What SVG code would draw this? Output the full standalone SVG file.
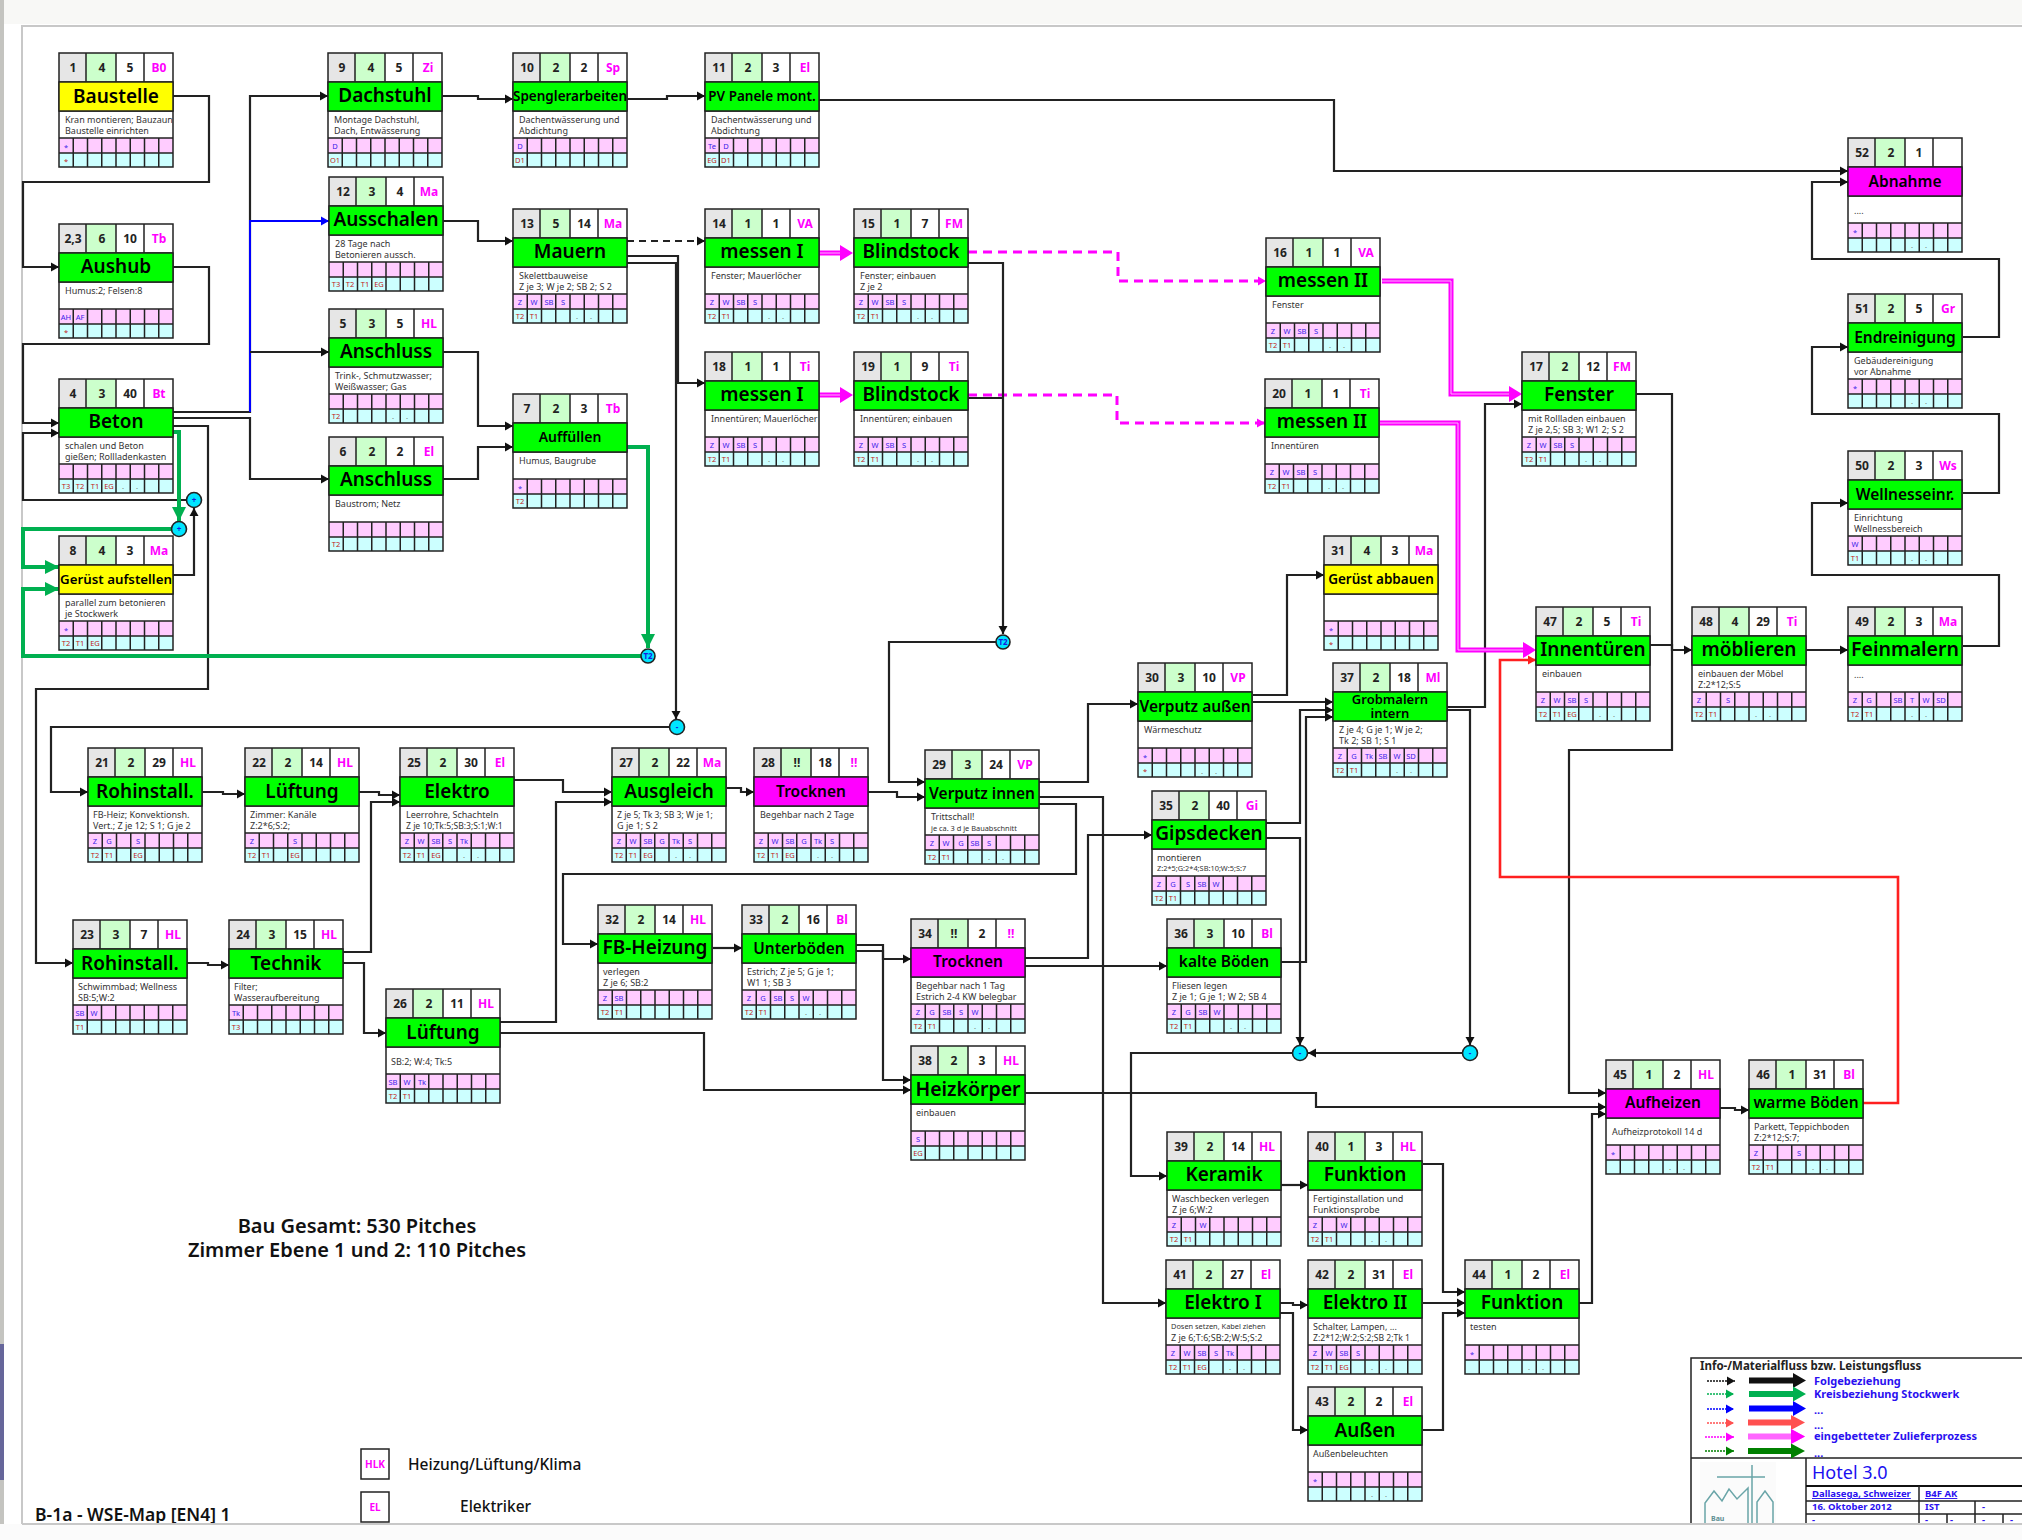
<svg xmlns="http://www.w3.org/2000/svg" width="2022" height="1540" viewBox="0 0 2022 1540">
<style>
text{font-family:"Noto Sans","DejaVu Sans",sans-serif}
.e{fill:none;stroke:#222;stroke-width:2}
.s{fill:none;stroke:#222;stroke-width:1.5}
.k{fill:none;stroke:#222;stroke-width:2.2;marker-end:url(#ak)}
.kn{fill:none;stroke:#222;stroke-width:2.2}
.kd{fill:none;stroke:#222;stroke-width:2;stroke-dasharray:7 5;marker-end:url(#ak)}
.bl{fill:none;stroke:#0000ff;stroke-width:2;marker-end:url(#ab)}
.gr{fill:none;stroke:#00b050;stroke-width:4;marker-end:url(#ag)}
.rd{fill:none;stroke:#ff2020;stroke-width:2.6;marker-end:url(#ar)}
.md{fill:none;stroke:#ff00ff;stroke-width:3;stroke-dasharray:9 6;marker-end:url(#am)}
.mm{fill:none;stroke:#ff00ff;stroke-width:5}
.mw{fill:none;stroke:#ffb4ff;stroke-width:1}
.tg{fill:#00ff00;stroke:#222;stroke-width:1.5}
.ty{fill:#ffff00;stroke:#222;stroke-width:1.5}
.tm{fill:#ff00ff;stroke:#222;stroke-width:1.5}
.h{font-size:12px;font-weight:700;fill:#222;text-anchor:middle}
.r{font-size:12px;font-weight:700;fill:#ff00ff;text-anchor:middle}
.t,.t2,.t3{font-weight:600;fill:#000;text-anchor:middle}
.t{font-size:19px}.t2{font-size:15.5px}.t3{font-size:13.5px}
.d{font-size:9px;fill:#333}.d2{font-size:7.4px;fill:#333}
.p{font-size:7.5px;fill:#3a22e8;text-anchor:middle}
.c{font-size:7.5px;fill:#c02020;text-anchor:middle}
.g{fill:#777}
.o{fill:#00e5ff;stroke:#222;stroke-width:1.6}
.oh{font-size:8px;font-weight:700;fill:#1a1ae0;text-anchor:middle}
.lg{font-size:11px;font-weight:700;fill:#2a10f0}
.li{font-size:9.5px;font-weight:700;fill:#2a10f0}
.b1{font-size:20px;font-weight:600;fill:#111;text-anchor:middle}
.b2{font-size:15.5px;font-weight:500;fill:#111}
</style>
<defs>
<marker id="ak" markerUnits="userSpaceOnUse" markerWidth="9" markerHeight="10" refX="8" refY="5" orient="auto"><path d="M0,0.5 L8,5 L0,9.5z" fill="#111"/></marker>
<marker id="ab" markerUnits="userSpaceOnUse" markerWidth="9" markerHeight="10" refX="8" refY="5" orient="auto"><path d="M0,0.5 L8,5 L0,9.5z" fill="#0000ff"/></marker>
<marker id="ar" markerUnits="userSpaceOnUse" markerWidth="9" markerHeight="10" refX="8" refY="5" orient="auto"><path d="M0,0.5 L8,5 L0,9.5z" fill="#ff2020"/></marker>
<marker id="ag" markerUnits="userSpaceOnUse" markerWidth="15" markerHeight="14" refX="14" refY="7" orient="auto"><path d="M0,0 L14,7 L0,14z" fill="#00b050"/></marker>
<marker id="am" markerUnits="userSpaceOnUse" markerWidth="9" markerHeight="10" refX="8" refY="5" orient="auto"><path d="M0,0.5 L8,5 L0,9.5z" fill="#ff00ff"/></marker>
<marker id="ld" markerUnits="userSpaceOnUse" markerWidth="9" markerHeight="10" refX="8" refY="5" orient="auto"><path d="M0,0.5 L8,5 L0,9.5z" fill="#008000"/></marker>
<marker id="lg" markerUnits="userSpaceOnUse" markerWidth="9" markerHeight="10" refX="8" refY="5" orient="auto"><path d="M0,0.5 L8,5 L0,9.5z" fill="#00b050"/></marker>
<marker id="lr" markerUnits="userSpaceOnUse" markerWidth="9" markerHeight="10" refX="8" refY="5" orient="auto"><path d="M0,0.5 L8,5 L0,9.5z" fill="#ff5050"/></marker>
<g id="b">
<rect width="27" height="29" fill="#e6e6e6"/><rect x="27" width="30" height="29" fill="#ccffcc"/><rect x="57" width="57" height="29" fill="#fff"/>
<rect y="58" width="114" height="27" fill="#fff"/><rect y="85" width="114" height="15" fill="#ffccff"/><rect y="100" width="114" height="14" fill="#ccffff"/>
<path class="s" d="M0,0H114V114H0ZM27,0V29M57,0V29M85,0V29M0,29H114M0,58H114M0,85H114M0,100H114M14.25,85V114M28.5,85V114M42.75,85V114M57,85V114M71.25,85V114M85.5,85V114M99.75,85V114"/>
</g>
</defs>
<rect width="2022" height="1540" fill="#fff"/>
<rect width="2022" height="24" fill="#f8f8f6"/>
<rect x="0" y="0" width="4" height="1540" fill="#c4c4c0"/>
<rect x="0" y="1344" width="4" height="136" fill="#66669a"/>
<path d="M22,1524V26H2022" fill="none" stroke="#c8c8c8" stroke-width="2"/>

<g id="connectors">
<path class="k" d="M173,96H209V182H23V267H59"/>
<path class="k" d="M173,267H209V344H23V423H59"/>
<path class="k" d="M173,412H250V96H328"/>
<path class="bl" d="M250,412V221H329"/>
<path class="k" d="M250,352H329"/>
<path class="k" d="M173,418H250V479H329"/>
<path class="k" d="M173,426H208V689H36V963H73"/>
<path class="k" d="M187,500H23V433H59"/>
<path class="k" d="M173,575H194V508"/>
<path class="k" d="M442,96H478V99H513"/>
<path class="k" d="M627,99H667V96H705"/>
<path class="k" d="M819,100H1334V171H1848"/>
<path class="k" d="M442,221H478V241H513"/>
<path class="k" d="M442,352H478V426H513"/>
<path class="k" d="M442,479H478V447H513"/>
<path class="kd" d="M627,241H705"/>
<path class="k" d="M627,256H678V383H705"/>
<path class="k" d="M627,263H676V719"/>
<path class="k" d="M669,727H51V792H88"/>
<path class="gr" d="M173,432H179V521"/>
<path class="gr" d="M172,529H23V567H59"/>
<path class="gr" d="M641,656H23V589H59"/>
<path class="gr" d="M627,447H648V648"/>
<path class="mm" d="M819,253H842"/><path class="mw" d="M819,253H842"/><path d="M853,253L840,245V261z" fill="#ff00ff"/>
<path class="mm" d="M819,395H842"/><path class="mw" d="M819,395H842"/><path d="M853,395L840,387V403z" fill="#ff00ff"/>
<path class="md" d="M968,252H1118V281H1266"/>
<path class="md" d="M968,395H1117V423H1265"/>
<path class="k" d="M968,263H1003V634"/>
<path class="kn" d="M968,398H1003"/>
<path class="k" d="M996,642H889V782H925"/>
<path class="k" d="M201,792H223V794H245"/>
<path class="k" d="M357,792H379V795H400"/>
<path class="k" d="M342,952H371V802H400"/>
<path class="k" d="M187,963H208V965H229"/>
<path class="k" d="M342,963H364V1033H386"/>
<path class="k" d="M499,1022H556V802H612"/>
<path class="k" d="M499,1033H704V1090H911"/>
<path class="k" d="M513,780H563V792H612"/>
<path class="k" d="M1039,804H1076V874H563V944H598"/>
<path class="k" d="M727,788H741V792H754"/>
<path class="k" d="M868,792H897V797H925"/>
<path class="k" d="M1039,782H1088V704H1138"/>
<path class="k" d="M1039,797H1103V1303H1166"/>
<path class="k" d="M713,948H742"/>
<path class="k" d="M855,945H883V1080H911"/>
<path class="k" d="M855,951H883V959H911"/>
<path class="k" d="M1025,958H1088V835H1152"/>
<path class="k" d="M1025,966H1167"/>
<path class="k" d="M1253,695H1287V575H1324"/>
<path class="k" d="M1253,702H1333"/>
<path class="k" d="M1266,823H1300V710H1333"/>
<path class="k" d="M1266,838H1300V1045"/>
<path class="k" d="M1280,962H1306V717H1333"/>
<path class="k" d="M1447,707H1485V404H1522"/>
<path class="k" d="M1447,710H1470V1045"/>
<path class="k" d="M1463,1053H1308"/>
<path class="k" d="M1293,1053H1131V1176H1167"/>
<path class="k" d="M1636,394H1672V750H1569V1093H1606"/>
<path class="k" d="M1650,645H1672V650H1692"/>
<path class="k" d="M1806,650H1848"/>
<path class="k" d="M1963,646H1999V575H1812V503H1848"/>
<path class="k" d="M1963,493H1999V414H1812V347H1848"/>
<path class="k" d="M1963,337H1999V259H1812V182H1848"/>
<path class="mm" d="M1382,281H1451V394H1510"/><path class="mw" d="M1382,281H1451V394H1510"/><path d="M1522,394L1509,386V402z" fill="#ff00ff"/>
<path class="mm" d="M1380,423H1458V650H1524"/><path class="mw" d="M1380,423H1458V650H1524"/><path d="M1536,650L1523,642V658z" fill="#ff00ff"/>
<path class="rd" d="M1863,1103H1898V877H1500V660H1536"/>
<path class="k" d="M1024,1093H1316V1107H1606"/>
<path class="k" d="M1579,1303H1592V1114H1606"/>
<path class="k" d="M1720,1108H1735V1110H1749"/>
<path class="k" d="M1281,1185H1308"/>
<path class="k" d="M1423,1164H1443V1292H1465"/>
<path class="k" d="M1423,1303H1465"/>
<path class="k" d="M1423,1430H1443V1313H1465"/>
<path class="k" d="M1280,1303H1293V1305H1308"/>
<path class="k" d="M1280,1313H1293V1430H1308"/>
</g>

<g id="j1"><circle class="o" cx="194" cy="500" r="7.5"/><text class="oh" x="194" y="503">+</text></g>
<g id="j2"><circle class="o" cx="179" cy="529" r="7.5"/><text class="oh" x="179" y="532">+</text></g>
<g id="j3"><circle class="o" cx="648" cy="656" r="7"/><text class="oh" x="648" y="659">T2</text></g>
<g id="j4"><circle class="o" cx="1003" cy="642" r="7"/><text class="oh" x="1003" y="645">T2</text></g>
<g id="j5"><circle class="o" cx="677" cy="727" r="7.5"/><text class="oh" x="677" y="730">-</text></g>
<g id="j6"><circle class="o" cx="1300" cy="1053" r="7.5"/><text class="oh" x="1300" y="1056">-</text></g>
<g id="j7"><circle class="o" cx="1470" cy="1053" r="7.5"/><text class="oh" x="1470" y="1056">-</text></g>

<g id="n1" transform="translate(59,53)"><use href="#b"/><rect class="ty" y="29" width="114" height="29"/><text class="h" x="14" y="19">1</text><text class="h" x="43" y="19">4</text><text class="h" x="71" y="19">5</text><text class="r" x="100" y="19">B0</text><text class="t" x="57" y="50">Baustelle</text><text class="d" x="6" y="70">Kran montieren; Bauzaun</text><text class="d" x="6" y="81">Baustelle einrichten</text><text class="p" y="97"><tspan x="7">*</tspan></text><text class="c" y="111"><tspan x="7">*</tspan></text></g>
<g id="n9" transform="translate(328,53)"><use href="#b"/><rect class="tg" y="29" width="114" height="29"/><text class="h" x="14" y="19">9</text><text class="h" x="43" y="19">4</text><text class="h" x="71" y="19">5</text><text class="r" x="100" y="19">Zi</text><text class="t" x="57" y="49">Dachstuhl</text><text class="d" x="6" y="70">Montage Dachstuhl,</text><text class="d" x="6" y="81">Dach, Entwässerung</text><text class="p" y="96"><tspan x="7">D</tspan></text><text class="c" y="110"><tspan x="7">O1</tspan></text></g>
<g id="n10" transform="translate(513,53)"><use href="#b"/><rect class="tg" y="29" width="114" height="29"/><text class="h" x="14" y="19">10</text><text class="h" x="43" y="19">2</text><text class="h" x="71" y="19">2</text><text class="r" x="100" y="19">Sp</text><text class="t3" x="57" y="48">Spenglerarbeiten</text><text class="d" x="6" y="70">Dachentwässerung und</text><text class="d" x="6" y="81">Abdichtung</text><text class="p" y="96"><tspan x="7">D</tspan></text><text class="c" y="110"><tspan x="7">D1</tspan></text></g>
<g id="n11" transform="translate(705,53)"><use href="#b"/><rect class="tg" y="29" width="114" height="29"/><text class="h" x="14" y="19">11</text><text class="h" x="43" y="19">2</text><text class="h" x="71" y="19">3</text><text class="r" x="100" y="19">El</text><text class="t3" x="57" y="48">PV Panele mont.</text><text class="d" x="6" y="70">Dachentwässerung und</text><text class="d" x="6" y="81">Abdichtung</text><text class="p" y="96"><tspan x="7">Te</tspan><tspan x="21">D</tspan></text><text class="c" y="110"><tspan x="7">EG</tspan><tspan x="21">D1</tspan></text></g>
<g id="n12" transform="translate(329,177)"><use href="#b"/><rect class="tg" y="29" width="114" height="29"/><text class="h" x="14" y="19">12</text><text class="h" x="43" y="19">3</text><text class="h" x="71" y="19">4</text><text class="r" x="100" y="19">Ma</text><text class="t" x="57" y="49">Ausschalen</text><text class="d" x="6" y="70">28 Tage nach</text><text class="d" x="6" y="81">Betonieren aussch.</text><text class="c" y="110"><tspan x="7">T3</tspan><tspan x="21">T2</tspan><tspan x="36">T1</tspan><tspan x="50">EG</tspan></text></g>
<g id="n13" transform="translate(513,209)"><use href="#b"/><rect class="tg" y="29" width="114" height="29"/><text class="h" x="14" y="19">13</text><text class="h" x="43" y="19">5</text><text class="h" x="71" y="19">14</text><text class="r" x="100" y="19">Ma</text><text class="t" x="57" y="49">Mauern</text><text class="d" x="6" y="70">Skelettbauweise</text><text class="d" x="6" y="81">Z je 3; W je 2; SB 2; S 2</text><text class="p" y="96"><tspan x="7">Z</tspan><tspan x="21">W</tspan><tspan x="36">SB</tspan><tspan x="50">S</tspan></text><text class="c" y="110"><tspan x="7">T2</tspan><tspan x="21">T1</tspan><tspan class="g" x="64">.</tspan><tspan class="g" x="78">.</tspan></text></g>
<g id="n14" transform="translate(705,209)"><use href="#b"/><rect class="tg" y="29" width="114" height="29"/><text class="h" x="14" y="19">14</text><text class="h" x="43" y="19">1</text><text class="h" x="71" y="19">1</text><text class="r" x="100" y="19">VA</text><text class="t" x="57" y="49">messen I</text><text class="d" x="6" y="70">Fenster; Mauerlöcher</text><text class="p" y="96"><tspan x="7">Z</tspan><tspan x="21">W</tspan><tspan x="36">SB</tspan><tspan x="50">S</tspan></text><text class="c" y="110"><tspan x="7">T2</tspan><tspan x="21">T1</tspan><tspan class="g" x="64">.</tspan><tspan class="g" x="78">.</tspan></text></g>
<g id="n15" transform="translate(854,209)"><use href="#b"/><rect class="tg" y="29" width="114" height="29"/><text class="h" x="14" y="19">15</text><text class="h" x="43" y="19">1</text><text class="h" x="71" y="19">7</text><text class="r" x="100" y="19">FM</text><text class="t" x="57" y="49">Blindstock</text><text class="d" x="6" y="70">Fenster; einbauen</text><text class="d" x="6" y="81">Z je 2</text><text class="p" y="96"><tspan x="7">Z</tspan><tspan x="21">W</tspan><tspan x="36">SB</tspan><tspan x="50">S</tspan></text><text class="c" y="110"><tspan x="7">T2</tspan><tspan x="21">T1</tspan><tspan class="g" x="64">.</tspan><tspan class="g" x="78">.</tspan></text></g>
<g id="n16" transform="translate(1266,238)"><use href="#b"/><rect class="tg" y="29" width="114" height="29"/><text class="h" x="14" y="19">16</text><text class="h" x="43" y="19">1</text><text class="h" x="71" y="19">1</text><text class="r" x="100" y="19">VA</text><text class="t" x="57" y="49">messen II</text><text class="d" x="6" y="70">Fenster</text><text class="p" y="96"><tspan x="7">Z</tspan><tspan x="21">W</tspan><tspan x="36">SB</tspan><tspan x="50">S</tspan></text><text class="c" y="110"><tspan x="7">T2</tspan><tspan x="21">T1</tspan><tspan class="g" x="64">.</tspan><tspan class="g" x="78">.</tspan></text></g>
<g id="n18" transform="translate(705,352)"><use href="#b"/><rect class="tg" y="29" width="114" height="29"/><text class="h" x="14" y="19">18</text><text class="h" x="43" y="19">1</text><text class="h" x="71" y="19">1</text><text class="r" x="100" y="19">Ti</text><text class="t" x="57" y="49">messen I</text><text class="d" x="6" y="70">Innentüren; Mauerlöcher</text><text class="p" y="96"><tspan x="7">Z</tspan><tspan x="21">W</tspan><tspan x="36">SB</tspan><tspan x="50">S</tspan></text><text class="c" y="110"><tspan x="7">T2</tspan><tspan x="21">T1</tspan><tspan class="g" x="64">.</tspan><tspan class="g" x="78">.</tspan></text></g>
<g id="n19" transform="translate(854,352)"><use href="#b"/><rect class="tg" y="29" width="114" height="29"/><text class="h" x="14" y="19">19</text><text class="h" x="43" y="19">1</text><text class="h" x="71" y="19">9</text><text class="r" x="100" y="19">Ti</text><text class="t" x="57" y="49">Blindstock</text><text class="d" x="6" y="70">Innentüren; einbauen</text><text class="p" y="96"><tspan x="7">Z</tspan><tspan x="21">W</tspan><tspan x="36">SB</tspan><tspan x="50">S</tspan></text><text class="c" y="110"><tspan x="7">T2</tspan><tspan x="21">T1</tspan><tspan class="g" x="64">.</tspan><tspan class="g" x="78">.</tspan></text></g>
<g id="n20" transform="translate(1265,379)"><use href="#b"/><rect class="tg" y="29" width="114" height="29"/><text class="h" x="14" y="19">20</text><text class="h" x="43" y="19">1</text><text class="h" x="71" y="19">1</text><text class="r" x="100" y="19">Ti</text><text class="t" x="57" y="49">messen II</text><text class="d" x="6" y="70">Innentüren</text><text class="p" y="96"><tspan x="7">Z</tspan><tspan x="21">W</tspan><tspan x="36">SB</tspan><tspan x="50">S</tspan></text><text class="c" y="110"><tspan x="7">T2</tspan><tspan x="21">T1</tspan><tspan class="g" x="64">.</tspan><tspan class="g" x="78">.</tspan></text></g>
<g id="n17" transform="translate(1522,352)"><use href="#b"/><rect class="tg" y="29" width="114" height="29"/><text class="h" x="14" y="19">17</text><text class="h" x="43" y="19">2</text><text class="h" x="71" y="19">12</text><text class="r" x="100" y="19">FM</text><text class="t" x="57" y="49">Fenster</text><text class="d" x="6" y="70">mit Rollladen einbauen</text><text class="d" x="6" y="81">Z je 2,5; SB 3; W1 2; S 2</text><text class="p" y="96"><tspan x="7">Z</tspan><tspan x="21">W</tspan><tspan x="36">SB</tspan><tspan x="50">S</tspan></text><text class="c" y="110"><tspan x="7">T2</tspan><tspan x="21">T1</tspan><tspan class="g" x="64">.</tspan><tspan class="g" x="78">.</tspan></text></g>
<g id="n2-3" transform="translate(59,224)"><use href="#b"/><rect class="tg" y="29" width="114" height="29"/><text class="h" x="14" y="19">2,3</text><text class="h" x="43" y="19">6</text><text class="h" x="71" y="19">10</text><text class="r" x="100" y="19">Tb</text><text class="t" x="57" y="49">Aushub</text><text class="d" x="6" y="70">Humus:2; Felsen:8</text><text class="p" y="96"><tspan x="7">AH</tspan><tspan x="21">AF</tspan></text><text class="c" y="111"><tspan x="7">*</tspan></text></g>
<g id="n5" transform="translate(329,309)"><use href="#b"/><rect class="tg" y="29" width="114" height="29"/><text class="h" x="14" y="19">5</text><text class="h" x="43" y="19">3</text><text class="h" x="71" y="19">5</text><text class="r" x="100" y="19">HL</text><text class="t" x="57" y="49">Anschluss</text><text class="d" x="6" y="70">Trink-, Schmutzwasser;</text><text class="d" x="6" y="81">Weißwasser; Gas</text><text class="c" y="110"><tspan x="7">T2</tspan><tspan class="g" x="64">.</tspan><tspan class="g" x="78">.</tspan></text></g>
<g id="n4" transform="translate(59,379)"><use href="#b"/><rect class="tg" y="29" width="114" height="29"/><text class="h" x="14" y="19">4</text><text class="h" x="43" y="19">3</text><text class="h" x="71" y="19">40</text><text class="r" x="100" y="19">Bt</text><text class="t" x="57" y="49">Beton</text><text class="d" x="6" y="70">schalen und Beton</text><text class="d" x="6" y="81">gießen; Rollladenkasten</text><text class="c" y="110"><tspan x="7">T3</tspan><tspan x="21">T2</tspan><tspan x="36">T1</tspan><tspan x="50">EG</tspan><tspan class="g" x="64">.</tspan><tspan class="g" x="78">.</tspan></text></g>
<g id="n7" transform="translate(513,394)"><use href="#b"/><rect class="tg" y="29" width="114" height="29"/><text class="h" x="14" y="19">7</text><text class="h" x="43" y="19">2</text><text class="h" x="71" y="19">3</text><text class="r" x="100" y="19">Tb</text><text class="t3" x="57" y="48" style="font-size:14px">Auffüllen</text><text class="d" x="6" y="70">Humus, Baugrube</text><text class="p" y="97"><tspan x="7">*</tspan></text><text class="c" y="110"><tspan x="7">T2</tspan></text></g>
<g id="n6" transform="translate(329,437)"><use href="#b"/><rect class="tg" y="29" width="114" height="29"/><text class="h" x="14" y="19">6</text><text class="h" x="43" y="19">2</text><text class="h" x="71" y="19">2</text><text class="r" x="100" y="19">El</text><text class="t" x="57" y="49">Anschluss</text><text class="d" x="6" y="70">Baustrom; Netz</text><text class="c" y="110"><tspan x="7">T2</tspan></text></g>
<g id="n8" transform="translate(59,536)"><use href="#b"/><rect class="ty" y="29" width="114" height="29"/><text class="h" x="14" y="19">8</text><text class="h" x="43" y="19">4</text><text class="h" x="71" y="19">3</text><text class="r" x="100" y="19">Ma</text><text class="t3" x="57" y="48" style="font-size:13.3px">Gerüst aufstellen</text><text class="d" x="6" y="70">parallel zum betonieren</text><text class="d" x="6" y="81">je Stockwerk</text><text class="p" y="97"><tspan x="7">*</tspan></text><text class="c" y="110"><tspan x="7">T2</tspan><tspan x="21">T1</tspan><tspan x="36">EG</tspan></text></g>
<g id="n52" transform="translate(1848,138)"><use href="#b"/><rect class="tm" y="29" width="114" height="29"/><text class="h" x="14" y="19">52</text><text class="h" x="43" y="19">2</text><text class="h" x="71" y="19">1</text><text class="t2" x="57" y="49">Abnahme</text><text class="d" x="6" y="76">....</text><text class="p" y="97"><tspan x="7">*</tspan></text><text class="c" y="110"><tspan class="g" x="64">.</tspan><tspan class="g" x="78">.</tspan></text></g>
<g id="n51" transform="translate(1848,294)"><use href="#b"/><rect class="tg" y="29" width="114" height="29"/><text class="h" x="14" y="19">51</text><text class="h" x="43" y="19">2</text><text class="h" x="71" y="19">5</text><text class="r" x="100" y="19">Gr</text><text class="t2" x="57" y="49">Endreinigung</text><text class="d" x="6" y="70">Gebäudereinigung</text><text class="d" x="6" y="81">vor Abnahme</text><text class="p" y="97"><tspan x="7">*</tspan></text><text class="c" y="110"><tspan class="g" x="64">.</tspan><tspan class="g" x="78">.</tspan></text></g>
<g id="n50" transform="translate(1848,451)"><use href="#b"/><rect class="tg" y="29" width="114" height="29"/><text class="h" x="14" y="19">50</text><text class="h" x="43" y="19">2</text><text class="h" x="71" y="19">3</text><text class="r" x="100" y="19">Ws</text><text class="t2" x="57" y="49">Wellnesseinr.</text><text class="d" x="6" y="70">Einrichtung</text><text class="d" x="6" y="81">Wellnessbereich</text><text class="p" y="96"><tspan x="7">W</tspan></text><text class="c" y="110"><tspan x="7">T1</tspan><tspan class="g" x="64">.</tspan><tspan class="g" x="78">.</tspan></text></g>
<g id="n49" transform="translate(1848,607)"><use href="#b"/><rect class="tg" y="29" width="114" height="29"/><text class="h" x="14" y="19">49</text><text class="h" x="43" y="19">2</text><text class="h" x="71" y="19">3</text><text class="r" x="100" y="19">Ma</text><text class="t" x="57" y="49" style="font-size:19.5px">Feinmalern</text><text class="d" x="6" y="71">....</text><text class="p" y="96"><tspan x="7">Z</tspan><tspan x="21">G</tspan><tspan x="50">SB</tspan><tspan x="64">T</tspan><tspan x="78">W</tspan><tspan x="93">SD</tspan></text><text class="c" y="110"><tspan x="7">T2</tspan><tspan x="21">T1</tspan><tspan class="g" x="64">.</tspan><tspan class="g" x="78">.</tspan></text></g>
<g id="n48" transform="translate(1692,607)"><use href="#b"/><rect class="tg" y="29" width="114" height="29"/><text class="h" x="14" y="19">48</text><text class="h" x="43" y="19">4</text><text class="h" x="71" y="19">29</text><text class="r" x="100" y="19">Ti</text><text class="t" x="57" y="49">möblieren</text><text class="d" x="6" y="70">einbauen der Möbel</text><text class="d" x="6" y="81">Z:2*12;S:5</text><text class="p" y="96"><tspan x="7">Z</tspan><tspan x="36">S</tspan></text><text class="c" y="110"><tspan x="7">T2</tspan><tspan x="21">T1</tspan><tspan class="g" x="64">.</tspan><tspan class="g" x="78">.</tspan></text></g>
<g id="n47" transform="translate(1536,607)"><use href="#b"/><rect class="tg" y="29" width="114" height="29"/><text class="h" x="14" y="19">47</text><text class="h" x="43" y="19">2</text><text class="h" x="71" y="19">5</text><text class="r" x="100" y="19">Ti</text><text class="t" x="57" y="49">Innentüren</text><text class="d" x="6" y="70">einbauen</text><text class="p" y="96"><tspan x="7">Z</tspan><tspan x="21">W</tspan><tspan x="36">SB</tspan><tspan x="50">S</tspan></text><text class="c" y="110"><tspan x="7">T2</tspan><tspan x="21">T1</tspan><tspan x="36">EG</tspan><tspan class="g" x="64">.</tspan><tspan class="g" x="78">.</tspan></text></g>
<g id="n31" transform="translate(1324,536)"><use href="#b"/><rect class="ty" y="29" width="114" height="29"/><text class="h" x="14" y="19">31</text><text class="h" x="43" y="19">4</text><text class="h" x="71" y="19">3</text><text class="r" x="100" y="19">Ma</text><text class="t3" x="57" y="48">Gerüst abbauen</text><text class="p" y="97"><tspan x="7">*</tspan></text><text class="c" y="111"><tspan x="7">*</tspan></text></g>
<g id="n37" transform="translate(1333,663)"><use href="#b"/><rect class="tg" y="29" width="114" height="29"/><text class="h" x="14" y="19">37</text><text class="h" x="43" y="19">2</text><text class="h" x="71" y="19">18</text><text class="r" x="100" y="19">Ml</text><text class="t3" x="57" y="41" style="font-size:13px">Grobmalern</text><text class="t3" x="57" y="55" style="font-size:13px">intern</text><text class="d" x="6" y="70">Z je 4; G je 1; W je 2;</text><text class="d" x="6" y="81">Tk 2; SB 1; S 1</text><text class="p" y="96"><tspan x="7">Z</tspan><tspan x="21">G</tspan><tspan x="36">Tk</tspan><tspan x="50">SB</tspan><tspan x="64">W</tspan><tspan x="78">SD</tspan></text><text class="c" y="110"><tspan x="7">T2</tspan><tspan x="21">T1</tspan><tspan class="g" x="64">.</tspan><tspan class="g" x="78">.</tspan></text></g>
<g id="n30" transform="translate(1138,663)"><use href="#b"/><rect class="tg" y="29" width="114" height="29"/><text class="h" x="14" y="19">30</text><text class="h" x="43" y="19">3</text><text class="h" x="71" y="19">10</text><text class="r" x="100" y="19">VP</text><text class="t2" x="57" y="49">Verputz außen</text><text class="d" x="6" y="70">Wärmeschutz</text><text class="p" y="97"><tspan x="7">*</tspan></text><text class="c" y="111"><tspan x="7">*</tspan><tspan class="g" x="64">.</tspan><tspan class="g" x="78">.</tspan></text></g>
<g id="n21" transform="translate(88,748)"><use href="#b"/><rect class="tg" y="29" width="114" height="29"/><text class="h" x="14" y="19">21</text><text class="h" x="43" y="19">2</text><text class="h" x="71" y="19">29</text><text class="r" x="100" y="19">HL</text><text class="t" x="57" y="50">Rohinstall.</text><text class="d" x="5" y="70">FB-Heiz; Konvektionsh.</text><text class="d" x="5" y="81">Vert.; Z je 12; S 1; G je 2</text><text class="p" y="96"><tspan x="7">Z</tspan><tspan x="21">G</tspan><tspan x="50">S</tspan></text><text class="c" y="110"><tspan x="7">T2</tspan><tspan x="21">T1</tspan><tspan x="50">EG</tspan></text></g>
<g id="n22" transform="translate(245,748)"><use href="#b"/><rect class="tg" y="29" width="114" height="29"/><text class="h" x="14" y="19">22</text><text class="h" x="43" y="19">2</text><text class="h" x="71" y="19">14</text><text class="r" x="100" y="19">HL</text><text class="t" x="57" y="50">Lüftung</text><text class="d" x="5" y="70">Zimmer: Kanäle</text><text class="d" x="5" y="81">Z:2*6;S:2;</text><text class="p" y="96"><tspan x="7">Z</tspan><tspan x="50">S</tspan></text><text class="c" y="110"><tspan x="7">T2</tspan><tspan x="21">T1</tspan><tspan x="50">EG</tspan></text></g>
<g id="n25" transform="translate(400,748)"><use href="#b"/><rect class="tg" y="29" width="114" height="29"/><text class="h" x="14" y="19">25</text><text class="h" x="43" y="19">2</text><text class="h" x="71" y="19">30</text><text class="r" x="100" y="19">El</text><text class="t" x="57" y="50">Elektro</text><text class="d" x="6" y="70">Leerrohre, Schachteln</text><text class="d2" x="6" y="81" style="font-size:8.6px">Z je 10;Tk:5;SB:3;S:1;W:1</text><text class="p" y="96"><tspan x="7">Z</tspan><tspan x="21">W</tspan><tspan x="36">SB</tspan><tspan x="50">S</tspan><tspan x="64">Tk</tspan></text><text class="c" y="110"><tspan x="7">T2</tspan><tspan x="21">T1</tspan><tspan x="36">EG</tspan><tspan class="g" x="64">.</tspan><tspan class="g" x="78">.</tspan></text></g>
<g id="n27" transform="translate(612,748)"><use href="#b"/><rect class="tg" y="29" width="114" height="29"/><text class="h" x="14" y="19">27</text><text class="h" x="43" y="19">2</text><text class="h" x="71" y="19">22</text><text class="r" x="100" y="19">Ma</text><text class="t" x="57" y="50">Ausgleich</text><text class="d2" x="5" y="70" style="font-size:8.6px">Z je 5; Tk 3; SB 3; W je 1;</text><text class="d" x="5" y="81">G je 1; S 2</text><text class="p" y="96"><tspan x="7">Z</tspan><tspan x="21">W</tspan><tspan x="36">SB</tspan><tspan x="50">G</tspan><tspan x="64">Tk</tspan><tspan x="78">S</tspan></text><text class="c" y="110"><tspan x="7">T2</tspan><tspan x="21">T1</tspan><tspan x="36">EG</tspan><tspan class="g" x="64">.</tspan><tspan class="g" x="78">.</tspan></text></g>
<g id="n28" transform="translate(754,748)"><use href="#b"/><rect class="tm" y="29" width="114" height="29"/><text class="h" x="14" y="19">28</text><text class="h" x="43" y="19">!!</text><text class="h" x="71" y="19">18</text><text class="r" x="100" y="19">!!</text><text class="t2" x="57" y="49">Trocknen</text><text class="d" x="6" y="70">Begehbar nach 2 Tage</text><text class="p" y="96"><tspan x="7">Z</tspan><tspan x="21">W</tspan><tspan x="36">SB</tspan><tspan x="50">G</tspan><tspan x="64">Tk</tspan><tspan x="78">S</tspan></text><text class="c" y="110"><tspan x="7">T2</tspan><tspan x="21">T1</tspan><tspan x="36">EG</tspan><tspan class="g" x="64">.</tspan><tspan class="g" x="78">.</tspan></text></g>
<g id="n29" transform="translate(925,750)"><use href="#b"/><rect class="tg" y="29" width="114" height="29"/><text class="h" x="14" y="19">29</text><text class="h" x="43" y="19">3</text><text class="h" x="71" y="19">24</text><text class="r" x="100" y="19">VP</text><text class="t2" x="57" y="49">Verputz innen</text><text class="d" x="6" y="70">Trittschall!</text><text class="d2" x="6" y="81">je ca. 3 d je Bauabschnitt</text><text class="p" y="96"><tspan x="7">Z</tspan><tspan x="21">W</tspan><tspan x="36">G</tspan><tspan x="50">SB</tspan><tspan x="64">S</tspan></text><text class="c" y="110"><tspan x="7">T2</tspan><tspan x="21">T1</tspan><tspan class="g" x="64">.</tspan><tspan class="g" x="78">.</tspan></text></g>
<g id="n23" transform="translate(73,920)"><use href="#b"/><rect class="tg" y="29" width="114" height="29"/><text class="h" x="14" y="19">23</text><text class="h" x="43" y="19">3</text><text class="h" x="71" y="19">7</text><text class="r" x="100" y="19">HL</text><text class="t" x="57" y="50">Rohinstall.</text><text class="d" x="5" y="70">Schwimmbad; Wellness</text><text class="d" x="5" y="81">SB:5;W:2</text><text class="p" y="96"><tspan x="7">SB</tspan><tspan x="21">W</tspan></text><text class="c" y="110"><tspan x="7">T1</tspan></text></g>
<g id="n24" transform="translate(229,920)"><use href="#b"/><rect class="tg" y="29" width="114" height="29"/><text class="h" x="14" y="19">24</text><text class="h" x="43" y="19">3</text><text class="h" x="71" y="19">15</text><text class="r" x="100" y="19">HL</text><text class="t" x="57" y="50">Technik</text><text class="d" x="5" y="70">Filter;</text><text class="d" x="5" y="81">Wasseraufbereitung</text><text class="p" y="96"><tspan x="7">Tk</tspan></text><text class="c" y="110"><tspan x="7">T3</tspan></text></g>
<g id="n26" transform="translate(386,989)"><use href="#b"/><rect class="tg" y="29" width="114" height="29"/><text class="h" x="14" y="19">26</text><text class="h" x="43" y="19">2</text><text class="h" x="71" y="19">11</text><text class="r" x="100" y="19">HL</text><text class="t" x="57" y="50">Lüftung</text><text class="d" x="5" y="76">SB:2; W:4; Tk:5</text><text class="p" y="96"><tspan x="7">SB</tspan><tspan x="21">W</tspan><tspan x="36">Tk</tspan></text><text class="c" y="110"><tspan x="7">T2</tspan><tspan x="21">T1</tspan></text></g>
<g id="n32" transform="translate(598,905)"><use href="#b"/><rect class="tg" y="29" width="114" height="29"/><text class="h" x="14" y="19">32</text><text class="h" x="43" y="19">2</text><text class="h" x="71" y="19">14</text><text class="r" x="100" y="19">HL</text><text class="t" x="57" y="49">FB-Heizung</text><text class="d" x="5" y="70">verlegen</text><text class="d" x="5" y="81">Z je 6; SB:2</text><text class="p" y="96"><tspan x="7">Z</tspan><tspan x="21">SB</tspan></text><text class="c" y="110"><tspan x="7">T2</tspan><tspan x="21">T1</tspan></text></g>
<g id="n33" transform="translate(742,905)"><use href="#b"/><rect class="tg" y="29" width="114" height="29"/><text class="h" x="14" y="19">33</text><text class="h" x="43" y="19">2</text><text class="h" x="71" y="19">16</text><text class="r" x="100" y="19">Bl</text><text class="t2" x="57" y="49">Unterböden</text><text class="d" x="5" y="70">Estrich; Z je 5; G je 1;</text><text class="d" x="5" y="81">W1 1; SB 3</text><text class="p" y="96"><tspan x="7">Z</tspan><tspan x="21">G</tspan><tspan x="36">SB</tspan><tspan x="50">S</tspan><tspan x="64">W</tspan></text><text class="c" y="110"><tspan x="7">T2</tspan><tspan x="21">T1</tspan><tspan class="g" x="64">.</tspan><tspan class="g" x="78">.</tspan></text></g>
<g id="n34" transform="translate(911,919)"><use href="#b"/><rect class="tm" y="29" width="114" height="29"/><text class="h" x="14" y="19">34</text><text class="h" x="43" y="19">!!</text><text class="h" x="71" y="19">2</text><text class="r" x="100" y="19">!!</text><text class="t2" x="57" y="48">Trocknen</text><text class="d" x="5" y="70">Begehbar nach 1 Tag</text><text class="d" x="5" y="81">Estrich 2-4 KW belegbar</text><text class="p" y="96"><tspan x="7">Z</tspan><tspan x="21">G</tspan><tspan x="36">SB</tspan><tspan x="50">S</tspan><tspan x="64">W</tspan></text><text class="c" y="110"><tspan x="7">T2</tspan><tspan x="21">T1</tspan><tspan class="g" x="64">.</tspan><tspan class="g" x="78">.</tspan></text></g>
<g id="n35" transform="translate(1152,791)"><use href="#b"/><rect class="tg" y="29" width="114" height="29"/><text class="h" x="14" y="19">35</text><text class="h" x="43" y="19">2</text><text class="h" x="71" y="19">40</text><text class="r" x="100" y="19">Gi</text><text class="t" x="57" y="49">Gipsdecken</text><text class="d" x="5" y="70">montieren</text><text class="d2" x="5" y="80">Z:2*5;G:2*4;SB:10;W:5;S:7</text><text class="p" y="96"><tspan x="7">Z</tspan><tspan x="21">G</tspan><tspan x="36">S</tspan><tspan x="50">SB</tspan><tspan x="64">W</tspan></text><text class="c" y="110"><tspan x="7">T2</tspan><tspan x="21">T1</tspan></text></g>
<g id="n36" transform="translate(1167,919)"><use href="#b"/><rect class="tg" y="29" width="114" height="29"/><text class="h" x="14" y="19">36</text><text class="h" x="43" y="19">3</text><text class="h" x="71" y="19">10</text><text class="r" x="100" y="19">Bl</text><text class="t2" x="57" y="48">kalte Böden</text><text class="d" x="5" y="70">Fliesen legen</text><text class="d" x="5" y="81">Z je 1; G je 1; W 2; SB 4</text><text class="p" y="96"><tspan x="7">Z</tspan><tspan x="21">G</tspan><tspan x="36">SB</tspan><tspan x="50">W</tspan></text><text class="c" y="110"><tspan x="7">T2</tspan><tspan x="21">T1</tspan><tspan class="g" x="64">.</tspan><tspan class="g" x="78">.</tspan></text></g>
<g id="n38" transform="translate(911,1046)"><use href="#b"/><rect class="tg" y="29" width="114" height="29"/><text class="h" x="14" y="19">38</text><text class="h" x="43" y="19">2</text><text class="h" x="71" y="19">3</text><text class="r" x="100" y="19">HL</text><text class="t" x="57" y="50" style="font-size:19.5px">Heizkörper</text><text class="d" x="5" y="70">einbauen</text><text class="p" y="96"><tspan x="7">S</tspan></text><text class="c" y="110"><tspan x="7">EG</tspan></text></g>
<g id="n39" transform="translate(1167,1132)"><use href="#b"/><rect class="tg" y="29" width="114" height="29"/><text class="h" x="14" y="19">39</text><text class="h" x="43" y="19">2</text><text class="h" x="71" y="19">14</text><text class="r" x="100" y="19">HL</text><text class="t" x="57" y="49">Keramik</text><text class="d" x="5" y="70">Waschbecken verlegen</text><text class="d" x="5" y="81">Z je 6;W:2</text><text class="p" y="96"><tspan x="7">Z</tspan><tspan x="36">W</tspan></text><text class="c" y="110"><tspan x="7">T2</tspan><tspan x="21">T1</tspan></text></g>
<g id="n40" transform="translate(1308,1132)"><use href="#b"/><rect class="tg" y="29" width="114" height="29"/><text class="h" x="14" y="19">40</text><text class="h" x="43" y="19">1</text><text class="h" x="71" y="19">3</text><text class="r" x="100" y="19">HL</text><text class="t" x="57" y="49">Funktion</text><text class="d" x="5" y="70">Fertiginstallation und</text><text class="d" x="5" y="81">Funktionsprobe</text><text class="p" y="96"><tspan x="7">Z</tspan><tspan x="36">W</tspan></text><text class="c" y="110"><tspan x="7">T2</tspan><tspan x="21">T1</tspan><tspan class="g" x="64">.</tspan><tspan class="g" x="78">.</tspan></text></g>
<g id="n41" transform="translate(1166,1260)"><use href="#b"/><rect class="tg" y="29" width="114" height="29"/><text class="h" x="14" y="19">41</text><text class="h" x="43" y="19">2</text><text class="h" x="71" y="19">27</text><text class="r" x="100" y="19">El</text><text class="t" x="57" y="49">Elektro I</text><text class="d2" x="5" y="69">Dosen setzen, Kabel ziehen</text><text class="d" x="5" y="81">Z je 6;T:6;SB:2;W:5;S:2</text><text class="p" y="96"><tspan x="7">Z</tspan><tspan x="21">W</tspan><tspan x="36">SB</tspan><tspan x="50">S</tspan><tspan x="64">Tk</tspan></text><text class="c" y="110"><tspan x="7">T2</tspan><tspan x="21">T1</tspan><tspan x="36">EG</tspan><tspan class="g" x="64">.</tspan><tspan class="g" x="78">.</tspan></text></g>
<g id="n42" transform="translate(1308,1260)"><use href="#b"/><rect class="tg" y="29" width="114" height="29"/><text class="h" x="14" y="19">42</text><text class="h" x="43" y="19">2</text><text class="h" x="71" y="19">31</text><text class="r" x="100" y="19">El</text><text class="t" x="57" y="49">Elektro II</text><text class="d" x="5" y="70">Schalter, Lampen, ...</text><text class="d2" x="5" y="81" style="font-size:8.6px">Z:2*12;W:2;S:2;SB 2;Tk 1</text><text class="p" y="96"><tspan x="7">Z</tspan><tspan x="21">W</tspan><tspan x="36">SB</tspan><tspan x="50">S</tspan></text><text class="c" y="110"><tspan x="7">T2</tspan><tspan x="21">T1</tspan><tspan x="36">EG</tspan><tspan class="g" x="64">.</tspan><tspan class="g" x="78">.</tspan></text></g>
<g id="n43" transform="translate(1308,1387)"><use href="#b"/><rect class="tg" y="29" width="114" height="29"/><text class="h" x="14" y="19">43</text><text class="h" x="43" y="19">2</text><text class="h" x="71" y="19">2</text><text class="r" x="100" y="19">El</text><text class="t" x="57" y="50">Außen</text><text class="d" x="5" y="70">Außenbeleuchten</text><text class="p" y="97"><tspan x="7">*</tspan></text><text class="c" y="110"><tspan class="g" x="64">.</tspan><tspan class="g" x="78">.</tspan></text></g>
<g id="n44" transform="translate(1465,1260)"><use href="#b"/><rect class="tg" y="29" width="114" height="29"/><text class="h" x="14" y="19">44</text><text class="h" x="43" y="19">1</text><text class="h" x="71" y="19">2</text><text class="r" x="100" y="19">El</text><text class="t" x="57" y="49">Funktion</text><text class="d" x="5" y="70">testen</text><text class="p" y="97"><tspan x="7">*</tspan></text><text class="c" y="110"><tspan class="g" x="64">.</tspan><tspan class="g" x="78">.</tspan></text></g>
<g id="n45" transform="translate(1606,1060)"><use href="#b"/><rect class="tm" y="29" width="114" height="29"/><text class="h" x="14" y="19">45</text><text class="h" x="43" y="19">1</text><text class="h" x="71" y="19">2</text><text class="r" x="100" y="19">HL</text><text class="t2" x="57" y="48">Aufheizen</text><text class="d" x="6" y="75">Aufheizprotokoll 14 d</text><text class="p" y="97"><tspan x="7">*</tspan></text><text class="c" y="110"><tspan class="g" x="64">.</tspan><tspan class="g" x="78">.</tspan></text></g>
<g id="n46" transform="translate(1749,1060)"><use href="#b"/><rect class="tg" y="29" width="114" height="29"/><text class="h" x="14" y="19">46</text><text class="h" x="43" y="19">1</text><text class="h" x="71" y="19">31</text><text class="r" x="100" y="19">Bl</text><text class="t2" x="57" y="48">warme Böden</text><text class="d" x="5" y="70">Parkett, Teppichboden</text><text class="d" x="5" y="81">Z:2*12;S:7;</text><text class="p" y="96"><tspan x="7">Z</tspan><tspan x="50">S</tspan></text><text class="c" y="110"><tspan x="7">T2</tspan><tspan x="21">T1</tspan><tspan class="g" x="64">.</tspan><tspan class="g" x="78">.</tspan></text></g>

<g id="notes">
<text class="b1" x="357" y="1233">Bau Gesamt: 530 Pitches</text>
<text class="b1" x="357" y="1257">Zimmer Ebene 1 und 2: 110 Pitches</text>
<text class="b2" x="35" y="1521" style="font-size:17.5px;font-weight:600">B-1a - WSE-Map [EN4] 1</text>
<rect class="s" x="361" y="1449" width="28" height="30" style="fill:#fff"/><text x="375" y="1468" font-size="10" font-weight="700" fill="#ff00ff" text-anchor="middle">HLK</text>
<rect class="s" x="361" y="1492" width="28" height="30" style="fill:#fff"/><text x="375" y="1511" font-size="10" font-weight="700" fill="#ff00ff" text-anchor="middle">EL</text>
<text class="b2" x="408" y="1470">Heizung/Lüftung/Klima</text>
<text class="b2" x="460" y="1512">Elektriker</text>
</g>

<g id="legend">
<path class="s" d="M2022,1358H1691V1530M1691,1458H2022M1806,1458V1530"/>
<text x="1700" y="1370" font-size="11.5" font-weight="700" fill="#222">Info-/Materialfluss bzw. Leistungsfluss</text>
<g fill="none" stroke-width="1.5" stroke-dasharray="2 1">
<path stroke="#111" marker-end="url(#ak)" d="M1707,1381H1735"/>
<path stroke="#00b050" marker-end="url(#lg)" d="M1707,1394H1734"/>
<path stroke="#0000ff" marker-end="url(#ab)" d="M1707,1409H1734"/>
<path stroke="#ff5050" marker-end="url(#lr)" d="M1707,1423H1734"/>
<path stroke="#ff00ff" marker-end="url(#am)" d="M1705,1437H1734"/>
<path stroke="#008000" marker-end="url(#ld)" d="M1705,1451H1734"/>
</g>
<path fill="#111" d="M1749,1377.500H1793V1373L1806,1380.500L1793,1388V1383.500H1749Z"/>
<path fill="#00b050" d="M1749,1391H1793V1386.500L1806,1394L1793,1401.500V1397H1749Z"/>
<path fill="#0000ff" d="M1749,1405.500H1793V1401L1806,1408.500L1793,1416V1411.500H1749Z"/>
<path fill="#ff5050" d="M1748,1419.500H1791V1415L1805,1422.500L1791,1430V1425.500H1748Z"/>
<path fill="#ff66ff" d="M1748,1433.500H1791V1429L1805,1436.500L1791,1444V1439.500H1748Z"/><path fill="#ff00ff" d="M1791,1429L1805,1436.500L1791,1444Z"/>
<path fill="#008000" d="M1748,1448H1791V1443.500L1805,1451L1791,1458.500V1454H1748Z"/>
<text class="lg" x="1814" y="1385">Folgebeziehung</text>
<text class="lg" x="1814" y="1398">Kreisbeziehung Stockwerk</text>
<text class="lg" x="1814" y="1414">...</text>
<text class="lg" x="1814" y="1429">...</text>
<text class="lg" x="1814" y="1440">eingebetteter Zulieferprozess</text>
<text class="lg" x="1814" y="1457">...</text>
<text x="1812" y="1479" font-size="18" fill="#1a10f0">Hotel 3.0</text>
<path fill="none" stroke="#111" stroke-width="2" d="M1806,1486H2022"/>
<path class="s" d="M1806,1501H2022M1806,1514H2022M1919,1486V1530M1975,1501V1530M1947,1514V1530M2003,1514V1530"/>
<text class="li" x="1812" y="1497" text-decoration="underline">Dallasega, Schweizer</text>
<text class="li" x="1925" y="1497" text-decoration="underline">B4F AK</text>
<text class="li" x="1812" y="1510">16. Oktober 2012</text>
<text class="li" x="1925" y="1510">IST</text>
<text class="li" x="1982" y="1510">-</text>
<text class="li" x="1812" y="1523">-</text>
<text class="li" x="1925" y="1523">-</text>
<text class="li" x="1950" y="1523">-</text>
<text class="li" x="1982" y="1523">-</text>
<text class="li" x="2010" y="1523">-</text>
<rect x="1700" y="1462" width="76" height="64" fill="#fbfbfb"/>
<path fill="none" stroke="#6aa5a8" stroke-width="1.5" d="M1717,1477H1765M1752,1465V1530M1705,1530V1503L1714,1491L1722,1501L1729,1489L1737,1499L1748,1488V1530M1757,1530V1502L1765,1491L1773,1502V1530"/>
<text x="1711" y="1521" font-size="7" font-weight="700" fill="#5f8f92">Bau</text>
</g>
<rect y="1524" width="2022" height="16" fill="#fbfbfb"/>
<path d="M22,1524H2022" stroke="#c8c8c8" stroke-width="2"/>
</svg>
